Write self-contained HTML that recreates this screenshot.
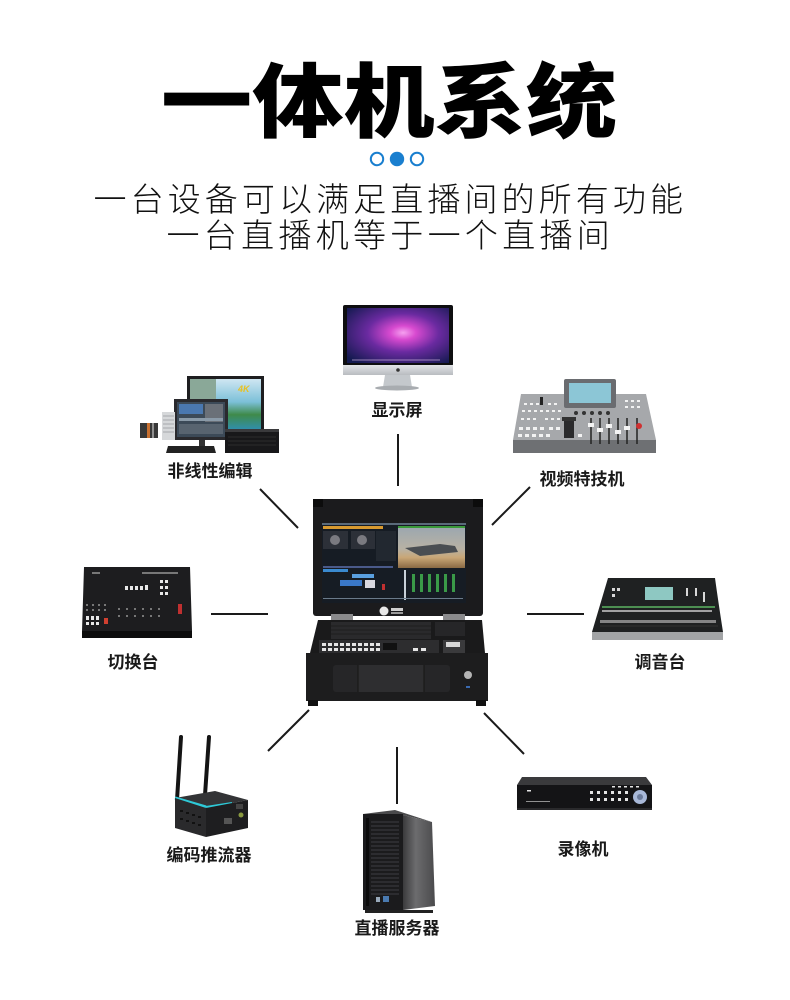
<!DOCTYPE html>
<html><head><meta charset="utf-8">
<style>
html,body{margin:0;padding:0;background:#fff;}
svg{display:block;}
text{font-family:"Liberation Sans","Noto Sans CJK SC",sans-serif;}
</style></head>
<body>
<svg width="790" height="1000" viewBox="0 0 790 1000" xmlns="http://www.w3.org/2000/svg">
<defs>
<radialGradient id="purp" cx="0.55" cy="0.45" r="0.7">
<stop offset="0" stop-color="#f6a0f0"/>
<stop offset="0.18" stop-color="#d84ad0"/>
<stop offset="0.5" stop-color="#6a2aa0"/>
<stop offset="1" stop-color="#141a50"/>
</radialGradient>
<linearGradient id="sea" x1="0" y1="0" x2="0" y2="1">
<stop offset="0" stop-color="#cfe6f2"/>
<stop offset="0.45" stop-color="#7cc0d8"/>
<stop offset="0.7" stop-color="#3f8a4a"/>
<stop offset="1" stop-color="#2f8fb0"/>
</linearGradient>
<linearGradient id="srvside" x1="0" y1="0" x2="1" y2="0">
<stop offset="0" stop-color="#3a3a3c"/>
<stop offset="0.4" stop-color="#6c6c6e"/>
<stop offset="1" stop-color="#4a4a4c"/>
</linearGradient>
<linearGradient id="silver" x1="0" y1="0" x2="0" y2="1">
<stop offset="0" stop-color="#e2e4e7"/>
<stop offset="1" stop-color="#b9bcc0"/>
</linearGradient>
<linearGradient id="jet" x1="0" y1="0" x2="0" y2="1">
<stop offset="0" stop-color="#9aa6b0"/>
<stop offset="0.55" stop-color="#b8b2a4"/>
<stop offset="0.75" stop-color="#c9a777"/>
<stop offset="1" stop-color="#8a6a44"/>
</linearGradient>
</defs>
<rect width="790" height="1000" fill="#fff"/>

<!-- Title -->
<text x="161" y="131" font-size="81" font-weight="900" textLength="456" lengthAdjust="spacingAndGlyphs" fill="#000">一体机系统</text>
<!-- dots -->
<circle cx="377" cy="159" r="6.2" fill="none" stroke="#1a7fcf" stroke-width="2"/>
<circle cx="397" cy="159" r="7.2" fill="#1a7fcf"/>
<circle cx="417" cy="159" r="6.2" fill="none" stroke="#1a7fcf" stroke-width="2"/>
<!-- subtitle -->
<text x="93.5" y="211" font-size="33" font-weight="300" letter-spacing="4.1" fill="#111">一台设备可以满足直播间的所有功能</text>
<text x="166.5" y="247" font-size="33" font-weight="300" letter-spacing="4.3" fill="#111">一台直播机等于一个直播间</text>

<!-- connector lines -->
<g stroke="#1a1a1a" stroke-width="2" fill="none">
<line x1="398" y1="434" x2="398" y2="486"/>
<line x1="260" y1="489" x2="298" y2="528"/>
<line x1="530" y1="487" x2="492" y2="525"/>
<line x1="211" y1="614" x2="268" y2="614"/>
<line x1="527" y1="614" x2="584" y2="614"/>
<line x1="309" y1="710" x2="268" y2="751"/>
<line x1="484" y1="713" x2="524" y2="754"/>
<line x1="397" y1="747" x2="397" y2="804"/>
</g>

<!-- iMac -->
<rect x="343" y="305" width="110" height="61" rx="2" fill="#0e0e10"/>
<rect x="347" y="308" width="102" height="55" fill="url(#purp)"/>
<path d="M352 360 L440 360" stroke="#e8c8f0" stroke-width="1" opacity="0.6"/>
<rect x="343" y="365" width="110" height="10" fill="url(#silver)"/>
<circle cx="398" cy="370" r="1.8" fill="#333"/>
<path d="M385 375 L410 375 L412 387 L383 387Z" fill="#c4c8cc"/>
<ellipse cx="397" cy="388" rx="22" ry="2.5" fill="#a8acb0"/>
<text x="397" y="416" font-size="17" font-weight="700" text-anchor="middle" fill="#1a1a1a">显示屏</text>

<!-- NLE -->
<rect x="187" y="376" width="77" height="58" fill="#1e1e20"/>
<rect x="190" y="379" width="71" height="51" fill="url(#sea)"/>
<rect x="190" y="379" width="26" height="22" fill="#8aa898"/>
<text x="238" y="392" font-size="9" font-weight="700" font-style="italic" fill="#e8c020">4K</text>
<rect x="174" y="399" width="54" height="41" fill="#2a2a2e"/>
<rect x="177" y="402" width="48" height="35" fill="#3c4a58"/>
<rect x="179" y="404" width="24" height="10" fill="#4a78b0"/>
<rect x="205" y="404" width="18" height="18" fill="#6a7078"/>
<rect x="179" y="418" width="44" height="3" fill="#8a9aa8"/>
<rect x="179" y="424" width="44" height="10" fill="#586470"/>
<rect x="199" y="440" width="6" height="6" fill="#333"/>
<rect x="162" y="412" width="13" height="28" fill="#d6d8da"/>
<g stroke="#9a9ca0" stroke-width="0.8"><line x1="163" y1="416" x2="174" y2="416"/><line x1="163" y1="420" x2="174" y2="420"/><line x1="163" y1="424" x2="174" y2="424"/><line x1="163" y1="428" x2="174" y2="428"/><line x1="163" y1="432" x2="174" y2="432"/></g>
<rect x="140" y="423" width="18" height="15" fill="#383838"/>
<rect x="147" y="423" width="3" height="15" fill="#c87030"/>
<rect x="152" y="423" width="2" height="15" fill="#909090"/>
<polygon points="168,446 214,446 216,453 166,453" fill="#222"/>
<rect x="225" y="429" width="54" height="24" fill="#18181a"/>
<rect x="225" y="429" width="54" height="3" fill="#3a3a3c"/>
<g stroke="#333" stroke-width="0.8"><line x1="228" y1="437" x2="276" y2="437"/><line x1="228" y1="441" x2="276" y2="441"/><line x1="228" y1="445" x2="276" y2="445"/></g>
<text x="210" y="477" font-size="17" font-weight="700" text-anchor="middle" fill="#1a1a1a">非线性编辑</text>

<!-- Video effects -->
<path d="M521 394 L646 394 L656 440 L513 440 Z" fill="#a6a8ab"/>
<path d="M513 440 L656 440 L656 453 L513 453 Z" fill="#6e7073"/>
<rect x="564" y="379" width="52" height="29" rx="2" fill="#6a6c70"/>
<rect x="569" y="383" width="42" height="20" fill="#8cc6d6"/>
<g fill="#f2f2f2">
<rect x="524" y="403" width="3" height="2"/><rect x="530" y="403" width="3" height="2"/><rect x="536" y="403" width="3" height="2"/><rect x="548" y="403" width="3" height="2"/><rect x="554" y="403" width="3" height="2"/>
<rect x="522" y="410" width="3" height="2"/><rect x="528" y="410" width="3" height="2"/><rect x="534" y="410" width="3" height="2"/><rect x="540" y="410" width="3" height="2"/><rect x="546" y="410" width="3" height="2"/><rect x="552" y="410" width="3" height="2"/><rect x="558" y="410" width="3" height="2"/>
<rect x="521" y="418" width="3" height="2"/><rect x="527" y="418" width="3" height="2"/><rect x="533" y="418" width="3" height="2"/><rect x="545" y="418" width="3" height="2"/><rect x="551" y="418" width="3" height="2"/><rect x="557" y="418" width="3" height="2"/>
<rect x="519" y="427" width="4" height="3"/><rect x="526" y="427" width="4" height="3"/><rect x="533" y="427" width="4" height="3"/><rect x="540" y="427" width="4" height="3"/><rect x="549" y="427" width="4" height="3"/><rect x="556" y="427" width="4" height="3"/>
<rect x="518" y="434" width="4" height="3"/><rect x="525" y="434" width="4" height="3"/><rect x="532" y="434" width="4" height="3"/><rect x="539" y="434" width="4" height="3"/><rect x="546" y="434" width="4" height="3"/><rect x="578" y="434" width="4" height="3"/>
<rect x="625" y="400" width="3" height="2"/><rect x="631" y="400" width="3" height="2"/><rect x="637" y="400" width="3" height="2"/><rect x="625" y="406" width="3" height="2"/><rect x="631" y="406" width="3" height="2"/><rect x="637" y="406" width="3" height="2"/>
</g>
<rect x="564" y="420" width="10" height="18" fill="#2a2a2c"/>
<rect x="562" y="417" width="14" height="4" fill="#333"/>
<g stroke="#222" stroke-width="1.5">
<line x1="591" y1="418" x2="591" y2="444"/><line x1="600" y1="418" x2="600" y2="444"/><line x1="609" y1="418" x2="609" y2="444"/><line x1="618" y1="418" x2="618" y2="444"/><line x1="627" y1="418" x2="627" y2="444"/><line x1="637" y1="418" x2="637" y2="444"/>
</g>
<g fill="#f4f4f4"><rect x="588" y="423" width="6" height="4"/><rect x="597" y="428" width="6" height="4"/><rect x="606" y="424" width="6" height="4"/><rect x="615" y="430" width="6" height="4"/><rect x="624" y="426" width="6" height="4"/></g>
<circle cx="639" cy="426" r="3" fill="#d03030"/>
<g fill="#333"><circle cx="576" cy="413" r="2"/><circle cx="584" cy="413" r="2"/><circle cx="592" cy="413" r="2"/><circle cx="600" cy="413" r="2"/><circle cx="608" cy="413" r="2"/></g>
<rect x="540" y="397" width="3" height="8" fill="#222"/>
<text x="582" y="485" font-size="17" font-weight="700" text-anchor="middle" fill="#1a1a1a">视频特技机</text>

<!-- Switcher -->
<polygon points="84,567 190,567 192,631 82,631" fill="#1d1d1f"/>
<rect x="82" y="631" width="110" height="7" fill="#0c0c0c"/>
<g fill="#e8e8e8">
<rect x="125" y="586" width="3" height="4"/><rect x="130" y="586" width="3" height="4"/><rect x="135" y="586" width="3" height="4"/><rect x="140" y="586" width="3" height="4"/><rect x="145" y="585" width="3" height="5"/>
<rect x="160" y="580" width="3" height="3"/><rect x="165" y="580" width="3" height="3"/><rect x="160" y="586" width="3" height="3"/><rect x="165" y="586" width="3" height="3"/><rect x="160" y="592" width="3" height="3"/><rect x="165" y="592" width="3" height="3"/>
<rect x="86" y="616" width="3" height="4"/><rect x="91" y="616" width="3" height="4"/><rect x="96" y="616" width="3" height="4"/>
<rect x="86" y="622" width="3" height="3"/><rect x="91" y="622" width="3" height="3"/><rect x="96" y="622" width="3" height="3"/>
</g>
<g fill="#777">
<rect x="86" y="604" width="2" height="2"/><rect x="92" y="604" width="2" height="2"/><rect x="98" y="604" width="2" height="2"/><rect x="104" y="604" width="2" height="2"/>
<rect x="86" y="609" width="2" height="2"/><rect x="92" y="609" width="2" height="2"/><rect x="98" y="609" width="2" height="2"/><rect x="104" y="609" width="2" height="2"/>
<rect x="118" y="608" width="2" height="2"/><rect x="126" y="608" width="2" height="2"/><rect x="134" y="608" width="2" height="2"/><rect x="142" y="608" width="2" height="2"/><rect x="150" y="608" width="2" height="2"/><rect x="158" y="608" width="2" height="2"/>
<rect x="118" y="615" width="2" height="2"/><rect x="126" y="615" width="2" height="2"/><rect x="134" y="615" width="2" height="2"/><rect x="142" y="615" width="2" height="2"/><rect x="150" y="615" width="2" height="2"/><rect x="158" y="615" width="2" height="2"/>
<rect x="92" y="572" width="8" height="2"/><rect x="142" y="572" width="36" height="2"/>
</g>
<rect x="104" y="618" width="4" height="6" fill="#d04030"/>
<rect x="178" y="604" width="4" height="10" fill="#c03030"/>
<text x="133" y="668" font-size="17" font-weight="700" text-anchor="middle" fill="#1a1a1a">切换台</text>

<!-- Mixer -->
<path d="M608 578 L715 578 Q718 600 723 632 L592 632 Q600 605 608 578 Z" fill="#1f2122"/>
<rect x="592" y="632" width="131" height="8" fill="#a2a4a6"/>
<rect x="645" y="587" width="28" height="13" fill="#8ec8c2"/>
<rect x="602" y="606" width="113" height="2" fill="#4d8f52"/>
<g fill="#d8d8d8">
<rect x="602" y="610" width="110" height="2" opacity="0.7"/>
<rect x="600" y="620" width="116" height="3" opacity="0.55"/>
<rect x="612" y="588" width="3" height="3"/><rect x="617" y="588" width="3" height="3"/><rect x="612" y="594" width="3" height="3"/>
<rect x="686" y="588" width="2" height="8"/><rect x="695" y="588" width="2" height="8"/><rect x="703" y="592" width="2" height="10"/>
</g>
<g stroke="#333" stroke-width="1"><line x1="600" y1="626" x2="718" y2="626"/></g>
<text x="660" y="668" font-size="17" font-weight="700" text-anchor="middle" fill="#1a1a1a">调音台</text>

<!-- Center all-in-one -->
<rect x="313" y="499" width="170" height="117" rx="3" fill="#1b1b1d"/>
<rect x="313" y="499" width="10" height="8" fill="#0c0c0c"/>
<rect x="473" y="499" width="10" height="8" fill="#0c0c0c"/>
<rect x="322" y="523" width="144" height="80" fill="#161c24"/>
<rect x="322" y="523" width="144" height="2" fill="#5a6a7a"/>
<rect x="323" y="526" width="60" height="3" fill="#d89a30"/>
<rect x="323" y="531" width="25" height="18" fill="#2c3038"/>
<circle cx="335" cy="540" r="5" fill="#7a7a80"/>
<rect x="351" y="531" width="24" height="18" fill="#2c3038"/>
<circle cx="362" cy="540" r="5" fill="#7a7a80"/>
<rect x="376" y="531" width="20" height="30" fill="#222830"/>
<rect x="398" y="526" width="67" height="42" fill="url(#jet)"/>
<path d="M405 548 L440 544 L455 546 L458 552 L420 556 Z" fill="#4a4e52"/>
<rect x="398" y="526" width="67" height="2" fill="#3a9a3a"/>
<rect x="323" y="566" width="70" height="2" fill="#4a5a8a"/>
<rect x="323" y="569" width="25" height="3" fill="#3a8ad0"/>
<rect x="352" y="574" width="22" height="4" fill="#5aa0e0"/>
<rect x="340" y="580" width="22" height="6" fill="#3a78c8"/>
<rect x="365" y="580" width="10" height="8" fill="#d8d8e0"/>
<rect x="382" y="584" width="3" height="6" fill="#c03030"/>
<rect x="404" y="570" width="2" height="30" fill="#c8d0d8"/>
<g fill="#3a9a48"><rect x="412" y="574" width="3" height="18"/><rect x="420" y="574" width="3" height="18"/><rect x="428" y="574" width="3" height="18"/><rect x="436" y="574" width="3" height="18"/><rect x="444" y="574" width="3" height="18"/><rect x="452" y="574" width="3" height="18"/></g>
<rect x="323" y="598" width="140" height="1" fill="#6a7a8a"/>
<circle cx="384" cy="611" r="4.5" fill="#e8e8e8"/>
<rect x="391" y="608" width="12" height="3" fill="#cfcfcf"/>
<rect x="391" y="612" width="12" height="2" fill="#9a9a9a"/>
<rect x="331" y="614" width="22" height="6" fill="#8a8a8c"/>
<rect x="443" y="614" width="22" height="6" fill="#8a8a8c"/>
<polygon points="318,620 482,620 485,653 310,653" fill="#1a1a1b"/>
<rect x="331" y="622" width="100" height="17" fill="#2a2a2c"/>
<g stroke="#1a1a1a" stroke-width="0.8"><line x1="331" y1="626" x2="431" y2="626"/><line x1="331" y1="630" x2="431" y2="630"/><line x1="331" y1="634" x2="431" y2="634"/></g>
<rect x="435" y="622" width="30" height="14" fill="#262628"/>
<rect x="319" y="640" width="120" height="13" fill="#2d2d2f"/>
<g fill="#e6e6e6">
<rect x="322" y="643" width="4" height="3"/><rect x="328" y="643" width="4" height="3"/><rect x="334" y="643" width="4" height="3"/><rect x="340" y="643" width="4" height="3"/><rect x="346" y="643" width="4" height="3"/><rect x="352" y="643" width="4" height="3"/><rect x="358" y="643" width="4" height="3"/><rect x="364" y="643" width="4" height="3"/><rect x="370" y="643" width="4" height="3"/><rect x="376" y="643" width="4" height="3"/>
<rect x="322" y="648" width="4" height="3"/><rect x="328" y="648" width="4" height="3"/><rect x="334" y="648" width="4" height="3"/><rect x="340" y="648" width="4" height="3"/><rect x="346" y="648" width="4" height="3"/><rect x="352" y="648" width="4" height="3"/><rect x="358" y="648" width="4" height="3"/><rect x="364" y="648" width="4" height="3"/><rect x="370" y="648" width="4" height="3"/><rect x="376" y="648" width="4" height="3"/>
<rect x="413" y="648" width="5" height="3"/><rect x="421" y="648" width="5" height="3"/>
</g>
<rect x="383" y="643" width="14" height="7" fill="#111"/>
<rect x="443" y="640" width="22" height="14" fill="#3a3a3c"/>
<rect x="446" y="642" width="14" height="5" fill="#d8d8d8"/>
<rect x="306" y="653" width="182" height="48" fill="#1d1d1e"/>
<rect x="333" y="665" width="117" height="27" rx="3" fill="#262628"/>
<rect x="358" y="665" width="66" height="27" fill="#2e2e30"/>
<line x1="358" y1="665" x2="358" y2="692" stroke="#151515" stroke-width="1"/>
<line x1="424" y1="665" x2="424" y2="692" stroke="#151515" stroke-width="1"/>
<circle cx="468" cy="675" r="4" fill="#b4b4b4"/>
<rect x="466" y="686" width="4" height="2" fill="#3a6ab0"/>
<rect x="308" y="700" width="10" height="6" fill="#111"/>
<rect x="476" y="700" width="10" height="6" fill="#111"/>

<!-- Encoder -->
<line x1="181" y1="737" x2="177" y2="800" stroke="#141414" stroke-width="4" stroke-linecap="round"/>
<line x1="209" y1="737" x2="205" y2="795" stroke="#141414" stroke-width="4" stroke-linecap="round"/>
<polygon points="175,798 215,791 248,800 206,808" fill="#333436"/>
<line x1="175" y1="798" x2="206" y2="807" stroke="#2ecad8" stroke-width="3"/>
<line x1="206" y1="807" x2="232" y2="803" stroke="#2ecad8" stroke-width="2"/>
<polygon points="175,798 206,808 206,837 175,828" fill="#2a2a2c"/>
<polygon points="206,808 248,800 248,828 206,837" fill="#1e1e20"/>
<g fill="#111"><rect x="180" y="810" width="3" height="2"/><rect x="186" y="812" width="3" height="2"/><rect x="192" y="814" width="3" height="2"/><rect x="198" y="816" width="3" height="2"/><rect x="180" y="818" width="3" height="2"/><rect x="186" y="820" width="3" height="2"/><rect x="192" y="822" width="3" height="2"/><rect x="198" y="824" width="3" height="2"/></g>
<rect x="224" y="818" width="8" height="6" fill="#555"/>
<circle cx="241" cy="815" r="2.5" fill="#8a9a40"/>
<rect x="236" y="804" width="7" height="5" fill="#444"/>
<text x="209" y="861" font-size="17" font-weight="700" text-anchor="middle" fill="#1a1a1a">编码推流器</text>

<!-- Server -->
<polygon points="363,814 395,810 432,822 403,815" fill="#4a4a4c"/>
<polygon points="403,815 432,822 435,906 403,910" fill="url(#srvside)"/>
<rect x="363" y="814" width="40" height="96" fill="#1b1b1d"/>
<rect x="366" y="818" width="3" height="88" fill="#0c0c0c"/>
<g stroke="#3e3e42" stroke-width="1">
<line x1="371" y1="822" x2="399" y2="822"/><line x1="371" y1="826" x2="399" y2="826"/><line x1="371" y1="830" x2="399" y2="830"/><line x1="371" y1="834" x2="399" y2="834"/><line x1="371" y1="838" x2="399" y2="838"/><line x1="371" y1="842" x2="399" y2="842"/><line x1="371" y1="846" x2="399" y2="846"/><line x1="371" y1="850" x2="399" y2="850"/><line x1="371" y1="854" x2="399" y2="854"/><line x1="371" y1="858" x2="399" y2="858"/><line x1="371" y1="862" x2="399" y2="862"/><line x1="371" y1="866" x2="399" y2="866"/><line x1="371" y1="870" x2="399" y2="870"/><line x1="371" y1="874" x2="399" y2="874"/><line x1="371" y1="878" x2="399" y2="878"/><line x1="371" y1="882" x2="399" y2="882"/><line x1="371" y1="886" x2="399" y2="886"/><line x1="371" y1="890" x2="399" y2="890"/><line x1="371" y1="894" x2="399" y2="894"/>
</g>
<rect x="376" y="897" width="4" height="5" fill="#9ab"/>
<rect x="383" y="896" width="6" height="6" fill="#4a7ab0"/>
<rect x="365" y="910" width="68" height="3" fill="#222"/>
<text x="397" y="934" font-size="17" font-weight="700" text-anchor="middle" fill="#1a1a1a">直播服务器</text>

<!-- DVR -->
<polygon points="522,777 646,777 652,785 517,785" fill="#3a3a3c"/>
<rect x="517" y="785" width="135" height="24" fill="#141416"/>
<rect x="517" y="808" width="135" height="2" fill="#2a2a2c"/>
<g fill="#e4e4e4">
<rect x="590" y="791" width="3" height="3"/><rect x="597" y="791" width="3" height="3"/><rect x="604" y="791" width="3" height="3"/><rect x="611" y="791" width="3" height="3"/><rect x="618" y="791" width="3" height="3"/><rect x="625" y="791" width="3" height="3"/>
<rect x="590" y="798" width="3" height="3"/><rect x="597" y="798" width="3" height="3"/><rect x="604" y="798" width="3" height="3"/><rect x="611" y="798" width="3" height="3"/><rect x="618" y="798" width="3" height="3"/><rect x="625" y="798" width="3" height="3"/>
<rect x="612" y="786" width="3" height="1.5"/><rect x="618" y="786" width="3" height="1.5"/><rect x="624" y="786" width="3" height="1.5"/><rect x="630" y="786" width="3" height="1.5"/><rect x="636" y="786" width="3" height="1.5"/>
<rect x="527" y="790" width="4" height="1.5"/>
<rect x="526" y="801" width="24" height="1" opacity="0.6"/>
</g>
<circle cx="640" cy="797" r="7" fill="#a8b8d8"/>
<circle cx="640" cy="797" r="3" fill="#6a7a9a"/>
<text x="583" y="855" font-size="17" font-weight="700" text-anchor="middle" fill="#1a1a1a">录像机</text>
</svg>
</body></html>
